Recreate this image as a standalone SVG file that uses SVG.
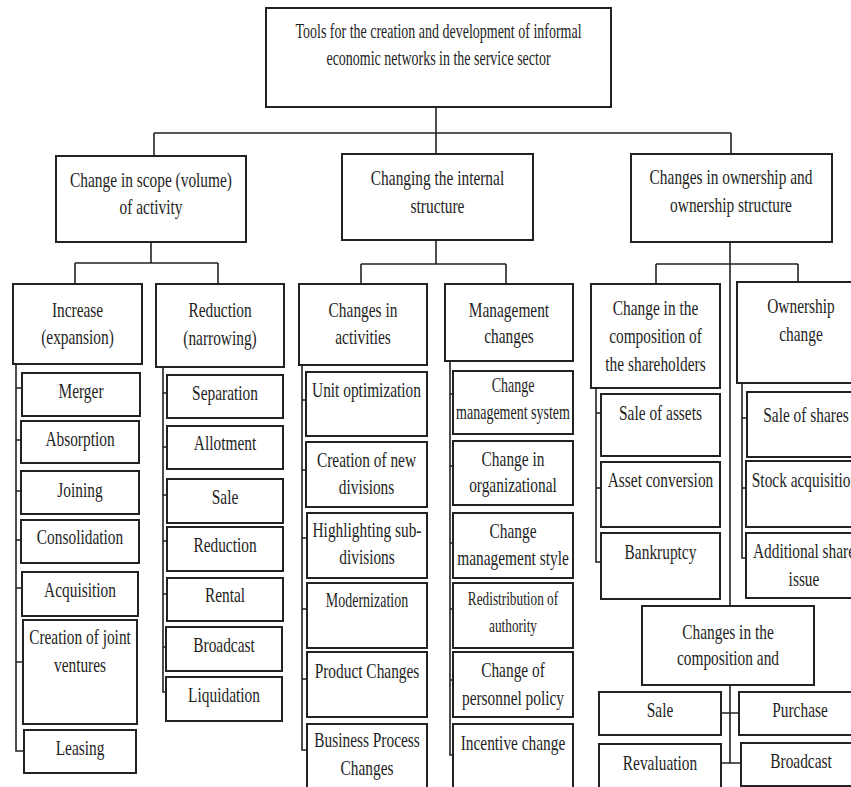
<svg xmlns="http://www.w3.org/2000/svg" width="851" height="787" viewBox="0 0 851 787">
<style>
.box{fill:#fff;stroke:#222;stroke-width:2}
.ln{fill:none;stroke:#222;stroke-width:1.6}
text{font-family:"Liberation Serif","Times New Roman",serif;fill:#1e1e1e;text-anchor:middle;font-size:22px}
.s20{font-size:20px}
.s19{font-size:19px}
</style>
<rect width="851" height="787" fill="#fff"/>
<g id="connectors">
<path class="ln" d="M436,107V154M154,133H731M154,133V156M731,133V154"/>
<path class="ln" d="M151,242V263M75,263H218M75,263V284M218,263V284"/>
<path class="ln" d="M436,240V264M361,264H506M361,264V284M506,264V284"/>
<path class="ln" d="M730,242V606M656,264H798M656,264V284M798,264V282"/>
<path class="ln" d="M16,364V751H24M16,388H22M16,440H21M16,491H21M16,540H21M16,588H22M16,662H23"/>
<path class="ln" d="M163,367V692H166M163,393H167M163,447H167M163,495H167M163,541H167M163,594H167M163,647H166"/>
<path class="ln" d="M302,365V750H307M302,400H306M302,470H306M302,538H307M302,609H307M302,679H307"/>
<path class="ln" d="M450,361V755H453M450,394H453M450,466H453M450,543H453M450,609H453M450,680H453"/>
<path class="ln" d="M596,388V562H601M596,413H601M596,488H601"/>
<path class="ln" d="M742,383V558H746M742,418H747M742,488H746"/>
<path class="ln" d="M730,685V763M721,713H739M721,763H741"/>
</g>
<g id="root"><rect class="box" x="266" y="8" width="345" height="99"/>
<text class="s20" transform="translate(438.5,38) scale(0.7,1)">Tools for the creation and development of informal</text>
<text class="s20" transform="translate(438.5,65) scale(0.7,1)">economic networks in the service sector</text></g>
<g id="scope"><rect class="box" x="56" y="156" width="190" height="86"/>
<text transform="translate(151,187) scale(0.7,1)">Change in scope (volume)</text>
<text transform="translate(151,214) scale(0.7,1)">of activity</text></g>
<g id="internal"><rect class="box" x="342" y="154" width="191" height="86"/>
<text transform="translate(437.5,185) scale(0.7,1)">Changing the internal</text>
<text transform="translate(437.5,213) scale(0.7,1)">structure</text></g>
<g id="ownership"><rect class="box" x="631" y="154" width="201" height="88"/>
<text transform="translate(731,184) scale(0.7,1)">Changes in ownership and</text>
<text transform="translate(731,212) scale(0.7,1)">ownership structure</text></g>
<g id="increase"><rect class="box" x="13" y="284" width="129" height="80"/>
<text transform="translate(77.5,317) scale(0.7,1)">Increase</text>
<text transform="translate(77.5,344) scale(0.7,1)">(expansion)</text></g>
<g id="reduction"><rect class="box" x="156" y="284" width="128" height="83"/>
<text transform="translate(220,317) scale(0.7,1)">Reduction</text>
<text transform="translate(220,345) scale(0.7,1)">(narrowing)</text></g>
<g id="activities"><rect class="box" x="299" y="284" width="128" height="81"/>
<text transform="translate(363,317) scale(0.7,1)">Changes in</text>
<text transform="translate(363,344) scale(0.7,1)">activities</text></g>
<g id="management"><rect class="box" x="445" y="284" width="128" height="77"/>
<text transform="translate(509,317) scale(0.7,1)">Management</text>
<text transform="translate(509,343) scale(0.7,1)">changes</text></g>
<g id="shareholders"><rect class="box" x="591" y="284" width="129" height="104"/>
<text transform="translate(655.5,315) scale(0.7,1)">Change in the</text>
<text transform="translate(655.5,343) scale(0.7,1)">composition of</text>
<text transform="translate(655.5,371) scale(0.7,1)">the shareholders</text></g>
<g id="ownchange"><rect class="box" x="737" y="282" width="128" height="101"/>
<text transform="translate(801,313) scale(0.7,1)">Ownership</text>
<text transform="translate(801,341) scale(0.7,1)">change</text></g>
<g id="merger"><rect class="box" x="22" y="373" width="118" height="43"/><text transform="translate(81,398) scale(0.7,1)">Merger</text></g>
<g id="absorption"><rect class="box" x="21" y="421" width="118" height="42"/><text transform="translate(80,446) scale(0.7,1)">Absorption</text></g>
<g id="joining"><rect class="box" x="21" y="471" width="118" height="43"/><text transform="translate(80,497) scale(0.7,1)">Joining</text></g>
<g id="consolidation"><rect class="box" x="21" y="520" width="118" height="43"/><text transform="translate(80,544) scale(0.7,1)">Consolidation</text></g>
<g id="acquisition"><rect class="box" x="22" y="572" width="116" height="44"/><text transform="translate(80,597) scale(0.7,1)">Acquisition</text></g>
<g id="joint"><rect class="box" x="23" y="620" width="114" height="104"/>
<text transform="translate(80,644) scale(0.7,1)">Creation of joint</text>
<text transform="translate(80,672) scale(0.7,1)">ventures</text></g>
<g id="leasing"><rect class="box" x="24" y="730" width="112" height="43"/><text transform="translate(80,755) scale(0.7,1)">Leasing</text></g>
<g id="separation"><rect class="box" x="167" y="375" width="116" height="43"/><text transform="translate(225,400) scale(0.7,1)">Separation</text></g>
<g id="allotment"><rect class="box" x="167" y="426" width="116" height="43"/><text transform="translate(225,450) scale(0.7,1)">Allotment</text></g>
<g id="sale1"><rect class="box" x="167" y="479" width="116" height="44"/><text transform="translate(225,504) scale(0.7,1)">Sale</text></g>
<g id="reduction2"><rect class="box" x="167" y="527" width="116" height="44"/><text transform="translate(225,552) scale(0.7,1)">Reduction</text></g>
<g id="rental"><rect class="box" x="167" y="578" width="116" height="43"/><text transform="translate(225,602) scale(0.7,1)">Rental</text></g>
<g id="broadcast1"><rect class="box" x="166" y="627" width="116" height="44"/><text transform="translate(224,652) scale(0.7,1)">Broadcast</text></g>
<g id="liquidation"><rect class="box" x="166" y="677" width="116" height="44"/><text transform="translate(224,702) scale(0.7,1)">Liquidation</text></g>
<g id="unitopt"><rect class="box" x="306" y="372" width="121" height="64"/><text transform="translate(366.5,397) scale(0.7,1)">Unit optimization</text></g>
<g id="newdiv"><rect class="box" x="306" y="442" width="121" height="65"/>
<text transform="translate(366.5,467) scale(0.7,1)">Creation of new</text>
<text transform="translate(366.5,494) scale(0.7,1)">divisions</text></g>
<g id="subdiv"><rect class="box" x="307" y="513" width="120" height="65"/>
<text transform="translate(367,537) scale(0.7,1)">Highlighting sub-</text>
<text transform="translate(367,564) scale(0.7,1)">divisions</text></g>
<g id="modern"><rect class="box" x="307" y="583" width="120" height="65"/><text class="s20" transform="translate(367,607) scale(0.7,1)">Modernization</text></g>
<g id="product"><rect class="box" x="307" y="652" width="120" height="65"/><text transform="translate(367,678) scale(0.7,1)">Product Changes</text></g>
<g id="bizproc"><rect class="box" x="307" y="724" width="120" height="80"/>
<text transform="translate(367,747) scale(0.7,1)">Business Process</text>
<text transform="translate(367,775) scale(0.7,1)">Changes</text></g>
<g id="mgmtsys"><rect class="box" x="453" y="371" width="120" height="63"/>
<text class="s20" transform="translate(513,392) scale(0.7,1)">Change</text>
<text class="s20" transform="translate(513,419) scale(0.7,1)">management system</text></g>
<g id="orgchange"><rect class="box" x="453" y="441" width="120" height="64"/>
<text transform="translate(513,466) scale(0.7,1)">Change in</text>
<text transform="translate(513,492) scale(0.7,1)">organizational</text></g>
<g id="mgmtstyle"><rect class="box" x="453" y="513" width="120" height="65"/>
<text transform="translate(513,538) scale(0.7,1)">Change</text>
<text transform="translate(513,565) scale(0.7,1)">management style</text></g>
<g id="authority"><rect class="box" x="453" y="583" width="120" height="65"/>
<text class="s19" transform="translate(513,605) scale(0.7,1)">Redistribution of</text>
<text class="s19" transform="translate(513,632) scale(0.7,1)">authority</text></g>
<g id="personnel"><rect class="box" x="453" y="652" width="120" height="65"/>
<text transform="translate(513,677) scale(0.7,1)">Change of</text>
<text transform="translate(513,705) scale(0.7,1)">personnel policy</text></g>
<g id="incentive"><rect class="box" x="453" y="724" width="120" height="80"/><text transform="translate(513,750) scale(0.7,1)">Incentive change</text></g>
<g id="saleassets"><rect class="box" x="601" y="394" width="119" height="62"/><text transform="translate(660.5,420) scale(0.7,1)">Sale of assets</text></g>
<g id="assetconv"><rect class="box" x="601" y="462" width="119" height="65"/><text transform="translate(660.5,487) scale(0.7,1)">Asset conversion</text></g>
<g id="bankruptcy"><rect class="box" x="601" y="533" width="119" height="66"/><text transform="translate(660.5,559) scale(0.7,1)">Bankruptcy</text></g>
<g id="saleshares"><rect class="box" x="747" y="392" width="118" height="65"/><text transform="translate(806,422) scale(0.7,1)">Sale of shares</text></g>
<g id="stockacq"><rect class="box" x="746" y="461" width="119" height="66"/><text transform="translate(805,487) scale(0.7,1)">Stock acquisition</text></g>
<g id="addshare"><rect class="box" x="746" y="533" width="119" height="65"/>
<text transform="translate(804,558) scale(0.7,1)">Additional share</text>
<text transform="translate(804,586) scale(0.7,1)">issue</text></g>
<g id="composition"><rect class="box" x="642" y="606" width="172" height="79"/>
<text transform="translate(728,639) scale(0.7,1)">Changes in the</text>
<text transform="translate(728,665) scale(0.7,1)">composition and</text></g>
<g id="sale2"><rect class="box" x="599" y="692" width="122" height="43"/><text transform="translate(660,717) scale(0.7,1)">Sale</text></g>
<g id="purchase"><rect class="box" x="739" y="692" width="126" height="43"/><text transform="translate(800,717) scale(0.7,1)">Purchase</text></g>
<g id="revaluation"><rect class="box" x="599" y="744" width="122" height="60"/><text transform="translate(660,770) scale(0.7,1)">Revaluation</text></g>
<g id="broadcast2"><rect class="box" x="741" y="743" width="124" height="43"/><text transform="translate(801,768) scale(0.7,1)">Broadcast</text></g>
</svg>
